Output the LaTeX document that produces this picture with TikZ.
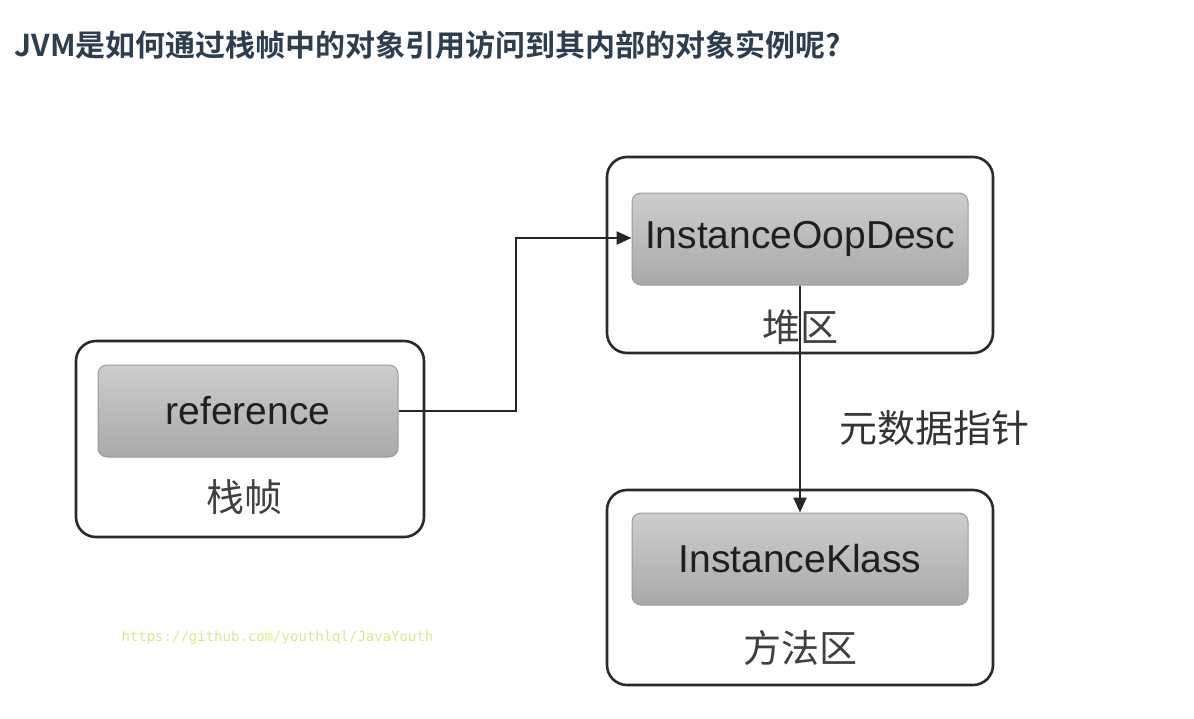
\documentclass[tikz,border=0pt]{standalone}
\usepackage{fontspec}
\setmainfont{Liberation Sans}
\newfontfamily\cjk{Noto Sans CJK SC}
\newfontfamily\cjkb{Noto Sans CJK SC Bold}
\setmonofont{DejaVu Sans Mono}
\usetikzlibrary{arrows.meta}
\definecolor{titlecol}{HTML}{2C3E50}
\definecolor{outerline}{HTML}{2A2A2A}
\definecolor{innerline}{HTML}{9A9A9A}
\definecolor{innertop}{HTML}{CDCDCD}
\definecolor{innerbot}{HTML}{A9A9A9}
\definecolor{wm}{HTML}{D2EE8A}
\begin{document}
\begin{tikzpicture}[x=1pt,y=-1pt,
  outerbox/.style={draw=outerline,line width=2.6pt,rounded corners=20pt,fill=white},
  innerbox/.style={draw=innerline,line width=1pt,rounded corners=9pt,top color=innertop,bottom color=innerbot},
  boxtext/.style={font=\fontsize{39}{43}\selectfont,text=black!88},
  arealabel/.style={font=\cjk\fontsize{38}{42}\selectfont,text=black!75},
  conn/.style={draw=black!85,line width=2.4pt,-{Triangle[length=15pt,width=13pt]}}
]
\useasboundingbox (0,0) rectangle (1194,718);
\fill[white] (0,0) rectangle (1194,718);
% title
\node[anchor=west,font=\cjkb\fontsize{30}{33}\selectfont,text=titlecol] (title) at (11,45) {JVM是如何通过栈帧中的对象引用访问到其内部的对象实例呢?};
% outer boxes
\draw[outerbox] (76,341) rectangle (424,537);
\draw[outerbox] (607,157) rectangle (993,353);
\draw[outerbox] (607,490) rectangle (993,685);
% inner boxes
\node[innerbox,minimum width=300pt,minimum height=92pt,inner sep=0pt] (ref) at (248,411) {};
\node[boxtext] at (ref.center) {reference};
\node[innerbox,minimum width=336pt,minimum height=92pt,inner sep=0pt] (oop) at (800,239) {};
\node[boxtext] at (oop.center) {InstanceOopDesc};
\node[innerbox,minimum width=336pt,minimum height=92pt,inner sep=0pt] (klass) at (800,559) {};
\node[boxtext] at (klass.center) {InstanceKlass};
% area labels
\node[arealabel] (zhen) at (244,497) {栈帧};
\node[arealabel] (heap) at (800,327) {堆区};
\node[arealabel] (method) at (800,648) {方法区};
% connectors
\coordinate (bend1) at (516,411);
\coordinate (bend2) at (516,238);
\draw[conn] (ref.east) -- (bend1) -- (bend2) -- (oop.west |- bend2);
\draw[conn] (oop.south) -- (klass.north);
\node[font=\cjk\fontsize{38}{42}\selectfont,text=black!80] (meta) at (934,428) {元数据指针};
% watermark
\node[font=\ttfamily\fontsize{14}{16}\selectfont,text=wm,anchor=west] (wmark) at (118,638) {https://github.com/youthlql/JavaYouth};
\end{tikzpicture}
\end{document}
